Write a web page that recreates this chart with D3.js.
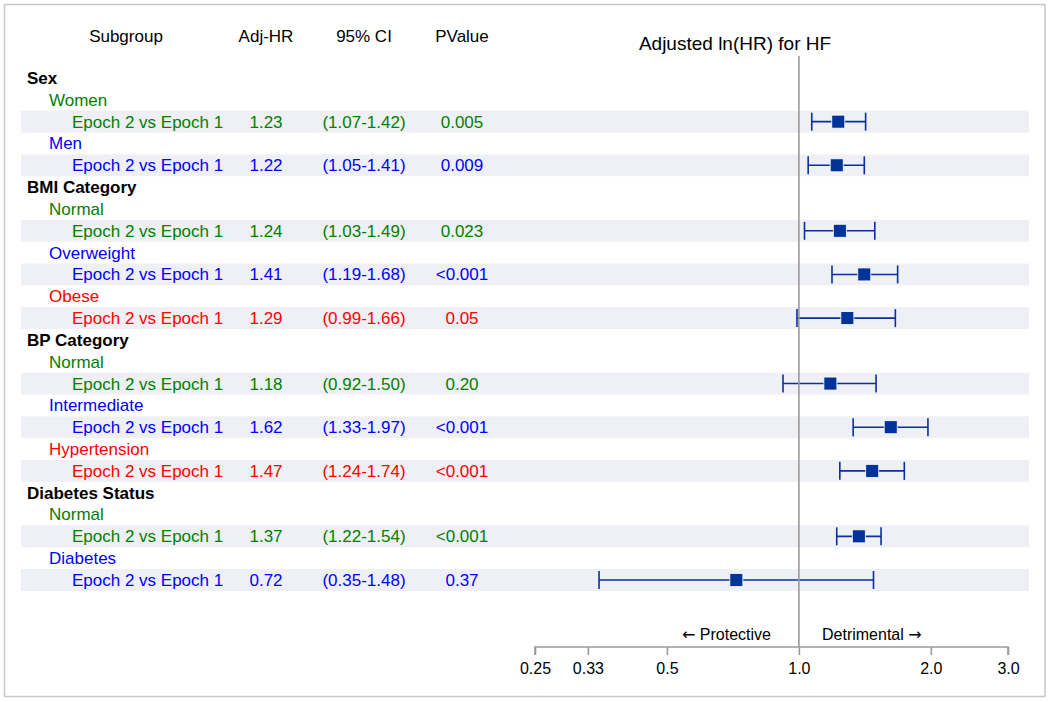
<!DOCTYPE html>
<html>
<head>
<meta charset="utf-8">
<script src="https://cdn.jsdelivr.net/npm/d3@7"></script>
<style>
  html, body { margin: 0; padding: 0; background: #fff; }
  svg { display: block; font-family: "Liberation Sans", Arial, Helvetica, sans-serif; }
</style>
</head>
<body>
<svg id="chart" width="1050" height="702"></svg>
<script>
// ---- Data ----
const groups = ["Sex", "BMI Category", "BP Category", "Diabetes Status"];
const subgroups = ["Women", "Men", "Normal", "Overweight", "Obese", "Normal", "Intermediate", "Hypertension", "Normal", "Diabetes"];
const subgroupGroup = [0, 0, 1, 1, 1, 2, 2, 2, 3, 3];
const subgroupColor = ["green", "blue", "green", "blue", "red", "green", "blue", "red", "green", "blue"];
const comparison = "Epoch 2 vs Epoch 1";
const hr = [1.23, 1.22, 1.24, 1.41, 1.29, 1.18, 1.62, 1.47, 1.37, 0.72];
const lower = [1.07, 1.05, 1.03, 1.19, 0.99, 0.92, 1.33, 1.24, 1.22, 0.35];
const upper = [1.42, 1.41, 1.49, 1.68, 1.66, 1.50, 1.97, 1.74, 1.54, 1.48];
const pvalues = ["0.005", "0.009", "0.023", "<0.001", "0.05", "0.20", "<0.001", "<0.001", "<0.001", "0.37"];
const headers = ["Subgroup", "Adj-HR", "95% CI", "PValue"];
const xTicks = [0.25, 0.33, 0.5, 1.0, 2.0, 3.0];
const xTickLabels = ["0.25", "0.33", "0.5", "1.0", "2.0", "3.0"];
const plotTitle = "Adjusted ln(HR) for HF";
const leftNote = "Protective";
const rightNote = "Detrimental";

// ---- Build rows ----
const rows = [];
groups.forEach((g, gi) => {
  rows.push({ type: "group", label: g });
  subgroups.forEach((s, si) => {
    if (subgroupGroup[si] !== gi) return;
    rows.push({ type: "sub", label: s, color: subgroupColor[si] });
    rows.push({ type: "est", label: comparison, color: subgroupColor[si], i: si });
  });
});

const svg = d3.select("#chart");

// frame
svg.append("rect").attr("x", 4.5).attr("y", 4.5).attr("width", 1040.5).attr("height", 692)
  .attr("fill", "#fff").attr("stroke", "#c8c8c8").attr("stroke-width", 1.5);

const y = d3.scalePoint().domain(d3.range(rows.length)).range([78, 580]);
const rowH = y.step();
const x = d3.scaleLog().domain([0.25, 3.0]).range([535, 1008]);

const colX = { sub: 126, hr: 266, ci: 364, p: 462 };
const fs = 17;

// bands
svg.append("g").selectAll("rect").data(rows.map((r, k) => ({ r, k })).filter(d => d.r.type === "est"))
  .join("rect")
  .attr("x", 21).attr("width", 1029 - 21)
  .attr("y", d => y(d.k) - rowH / 2).attr("height", rowH)
  .attr("fill", "#eff0f6");

// headers
const hdrX = [colX.sub, colX.hr, colX.ci, colX.p];
svg.append("g").selectAll("text").data(headers).join("text")
  .attr("x", (d, i) => hdrX[i]).attr("y", 36).attr("dy", "0.35em")
  .attr("text-anchor", "middle").attr("font-size", fs).attr("fill", "#000")
  .text(d => d);

svg.append("text").attr("x", 735).attr("y", 43).attr("dy", "0.35em")
  .attr("text-anchor", "middle").attr("font-size", 19).attr("fill", "#000")
  .text(plotTitle);

// row labels
const tg = svg.append("g");
rows.forEach((r, k) => {
  const yy = y(k);
  if (r.type === "group") {
    tg.append("text").attr("x", 27).attr("y", yy).attr("dy", "0.35em")
      .attr("font-size", fs).attr("font-weight", "bold").attr("fill", "#000").text(r.label);
  } else if (r.type === "sub") {
    tg.append("text").attr("x", 49).attr("y", yy).attr("dy", "0.35em")
      .attr("font-size", fs).attr("fill", r.color).text(r.label);
  } else {
    tg.append("text").attr("x", 72).attr("y", yy).attr("dy", "0.35em")
      .attr("font-size", fs).attr("fill", r.color).text(r.label);
    tg.append("text").attr("x", colX.hr).attr("y", yy).attr("dy", "0.35em")
      .attr("text-anchor", "middle").attr("font-size", fs).attr("fill", r.color)
      .text(hr[r.i].toFixed(2));
    tg.append("text").attr("x", colX.ci).attr("y", yy).attr("dy", "0.35em")
      .attr("text-anchor", "middle").attr("font-size", fs).attr("fill", r.color)
      .text("(" + lower[r.i].toFixed(2) + "-" + upper[r.i].toFixed(2) + ")");
    tg.append("text").attr("x", colX.p).attr("y", yy).attr("dy", "0.35em")
      .attr("text-anchor", "middle").attr("font-size", fs).attr("fill", r.color)
      .text(pvalues[r.i]);
  }
});

// error bars & markers
const est = rows.map((r, k) => ({ r, k })).filter(d => d.r.type === "est");
const barColor = "#0a2f9c";
const eg = svg.append("g");
eg.selectAll("line.ci").data(est).join("line")
  .attr("class", "ci")
  .attr("x1", d => x(lower[d.r.i])).attr("x2", d => x(upper[d.r.i]))
  .attr("y1", d => y(d.k)).attr("y2", d => y(d.k))
  .attr("stroke", barColor).attr("stroke-width", 1.6);
eg.selectAll("line.capl").data(est).join("line")
  .attr("class", "capl")
  .attr("x1", d => x(lower[d.r.i])).attr("x2", d => x(lower[d.r.i]))
  .attr("y1", d => y(d.k) - 9).attr("y2", d => y(d.k) + 9)
  .attr("stroke", barColor).attr("stroke-width", 1.6);
eg.selectAll("line.capu").data(est).join("line")
  .attr("class", "capu")
  .attr("x1", d => x(upper[d.r.i])).attr("x2", d => x(upper[d.r.i]))
  .attr("y1", d => y(d.k) - 9).attr("y2", d => y(d.k) + 9)
  .attr("stroke", barColor).attr("stroke-width", 1.6);
eg.selectAll("rect.m").data(est).join("rect")
  .attr("class", "m")
  .attr("x", d => x(hr[d.r.i]) - 6.5).attr("y", d => y(d.k) - 6.5)
  .attr("width", 13).attr("height", 13)
  .attr("fill", "#003399").attr("stroke", "#fff").attr("stroke-width", 0.8);

// reference line
svg.append("line").attr("x1", x(1)).attr("x2", x(1)).attr("y1", 56).attr("y2", 647)
  .attr("stroke", "#9a9a9a").attr("stroke-width", 1.6);

// axis
const axis = d3.axisBottom(x).tickValues(xTicks).tickFormat((d, i) => xTickLabels[i]).tickSize(8).tickPadding(8);
const ag = svg.append("g").attr("transform", "translate(0,647)").call(axis);
ag.select(".domain").attr("stroke", "#9a9a9a").attr("stroke-width", 1.6).attr("d", `M${x(0.25)},8V0H${x(3.0)}V8`);
ag.selectAll(".tick line").attr("stroke", "#9a9a9a").attr("stroke-width", 1.6);
ag.selectAll(".tick text").attr("font-size", 16).attr("fill", "#000")
  .attr("font-family", "'Liberation Sans', Arial, sans-serif");

const lt = svg.append("text").attr("x", 771).attr("y", 634).attr("dy", "0.35em")
  .attr("text-anchor", "end").attr("font-size", 16).attr("fill", "#000");
lt.append("tspan").attr("font-family", "'DejaVu Sans', sans-serif").text("\u2190");
lt.append("tspan").text(" " + leftNote);
const rt = svg.append("text").attr("x", 822).attr("y", 634).attr("dy", "0.35em")
  .attr("text-anchor", "start").attr("font-size", 16).attr("fill", "#000");
rt.append("tspan").text(rightNote + " ");
rt.append("tspan").attr("font-family", "'DejaVu Sans', sans-serif").text("\u2192");
</script>
</body>
</html>
